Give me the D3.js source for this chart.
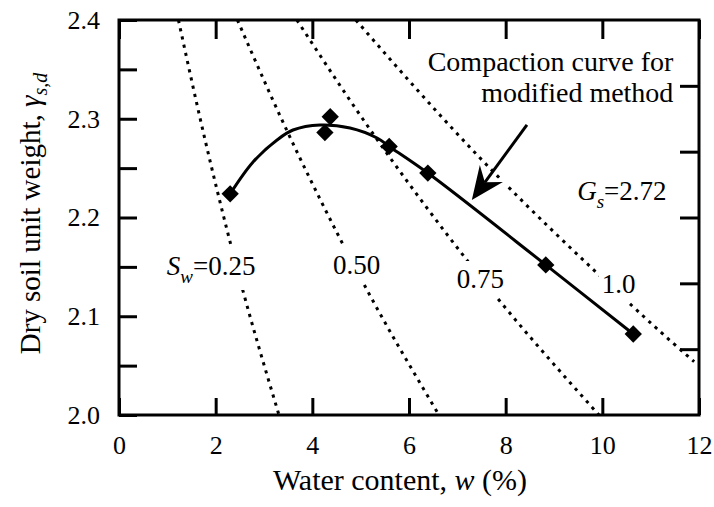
<!DOCTYPE html>
<html>
<head>
<meta charset="utf-8">
<script src="https://cdn.jsdelivr.net/npm/d3@7"></script>
<style>
  html, body { margin: 0; padding: 0; background: #fff; }
  svg text { font-family: 'Liberation Serif', 'Times New Roman', 'DejaVu Serif', serif; }
</style>
</head>
<body>
<svg id="chart" width="714" height="507"></svg>
<script>
// Compaction test results (modified method)
const waterContent  = [2.30, 4.26, 4.37, 5.59, 6.39, 8.83, 10.64];
const dryUnitWeight = [2.224, 2.286, 2.302, 2.272, 2.245, 2.152, 2.082];

// Smoothed compaction curve through the results
const curveW = [2.30, 2.77, 3.27, 3.60, 4.16, 4.78, 5.34, 5.59, 6.39, 8.83, 10.64];
const curveG = [2.224, 2.256, 2.2785, 2.2886, 2.2937, 2.2906, 2.2805, 2.272, 2.245, 2.152, 2.082];

// Constant degree-of-saturation lines (Gs = 2.72)
const satLabels = ["0.25", "0.50", "0.75", "1.0"];
const satW = [
  [1.23, 1.68, 2.17, 2.71, 3.31],
  [2.45, 3.36, 4.35, 5.43, 6.62],
  [3.68, 5.04, 6.52, 8.14, 9.93],
  [4.90, 6.71, 8.69, 10.85, 11.90]
];
const satG = [
  [2.40, 2.30, 2.20, 2.10, 2.00],
  [2.40, 2.30, 2.20, 2.10, 2.00],
  [2.40, 2.30, 2.20, 2.10, 2.00],
  [2.40, 2.30, 2.20, 2.10, 2.054]
];
// Label anchors for the saturation lines (left edge, baseline)
const satLabelW = [0.99, 4.43, 6.99, 9.99];
const satLabelG = [2.1418, 2.143, 2.1286, 2.1235];

// Axis ticks
const xTicks = [0, 2, 4, 6, 8, 10, 12];
const yTicks = [2.0, 2.05, 2.1, 2.15, 2.2, 2.25, 2.3, 2.35, 2.4];
const yTickLabels = [2.0, 2.1, 2.2, 2.3, 2.4];
const rightTicks = [1, 2, 3, 4, 5];

const FONT = "'Liberation Serif', 'Times New Roman', 'DejaVu Serif', serif";

const svg = d3.select("#chart");
const pLeft = 119, pTop = 20, pRight = 699, pBottom = 415;

const x = d3.scaleLinear().domain([0, 12]).range([pLeft, pRight]);
const y = d3.scaleLinear().domain([2.0, 2.4]).range([pBottom, pTop]);
const yRight = d3.scaleLinear().domain([0, 6]).range([pBottom, pTop]);

const plot = svg.append("g");

// Saturation lines (dotted)
const satLine = d3.line().x(d => x(d[0])).y(d => y(d[1])).curve(d3.curveNatural);
satLabels.forEach((lab, i) => {
  const pts = satW[i].map((w, j) => [w, satG[i][j]]);
  plot.append("path")
    .attr("d", satLine(pts))
    .attr("fill", "none")
    .attr("stroke", "#000")
    .attr("stroke-width", 3)
    .attr("stroke-dasharray", "3.2 5.2");
});

// Labels for saturation lines, with white knock-out behind
const knock = plot.append("g");
const labels = plot.append("g").attr("font-size", 27).attr("fill", "#000").style("font-family", FONT);

function addLabel(build, pad) {
  const t = build(labels);
  const b = t.node().getBBox();
  knock.append("rect")
    .attr("x", b.x - pad[0]).attr("y", b.y - pad[1])
    .attr("width", b.width + 2 * pad[0]).attr("height", b.height + 2 * pad[1])
    .attr("fill", "#fff");
  return t;
}

satLabels.forEach((lab, i) => {
  addLabel(g => {
    const t = g.append("text").attr("x", x(satLabelW[i])).attr("y", y(satLabelG[i]));
    if (i === 0) {
      t.append("tspan").attr("font-style", "italic").text("S");
      t.append("tspan").attr("font-style", "italic").attr("font-size", 19).attr("dy", 8).text("w");
      t.append("tspan").attr("dy", -8).text("=" + lab);
    } else {
      t.text(lab);
    }
    return t;
  }, [3, 3]);
});

// Gs label
const gsText = labels.append("text").attr("x", x(9.48)).attr("y", y(2.2177));
gsText.append("tspan").attr("font-style", "italic").text("G");
gsText.append("tspan").attr("font-style", "italic").attr("font-size", 19).attr("dy", 8).text("s");
gsText.append("tspan").attr("dy", -8).text("=2.72");

// Annotation text
const ann = plot.append("g").attr("font-size", 28).attr("text-anchor", "end").style("font-family", FONT);
ann.append("text").attr("x", x(11.47)).attr("y", y(2.3484)).text("Compaction curve for");
ann.append("text").attr("x", x(11.47)).attr("y", y(2.317)).text("modified method");

// Arrow pointing at the curve
const arrowFrom = [8.44, 2.2937];
const arrowTo = [7.30, 2.2177];
const ax0 = x(arrowFrom[0]), ay0 = y(arrowFrom[1]);
const ax1 = x(arrowTo[0]), ay1 = y(arrowTo[1]);
const len = Math.hypot(ax0 - ax1, ay0 - ay1);
const ux = (ax0 - ax1) / len, uy = (ay0 - ay1) / len;
const nx = -uy, ny = ux;
const headLen = 33, headHalf = 14.3, notch = 22;
const head = [
  [ax1, ay1],
  [ax1 + headLen * ux + headHalf * nx, ay1 + headLen * uy + headHalf * ny],
  [ax1 + notch * ux, ay1 + notch * uy],
  [ax1 + headLen * ux - headHalf * nx, ay1 + headLen * uy - headHalf * ny]
];
const headPath = "M" + head.map(p => p.join(",")).join("L") + "Z";
// white halo so the dotted line breaks under the arrowhead
knock.append("path").attr("d", headPath).attr("fill", "#fff")
  .attr("stroke", "#fff").attr("stroke-width", 7).attr("stroke-linejoin", "round");

// Compaction curve
const curveLine = d3.line().x(d => x(d[0])).y(d => y(d[1])).curve(d3.curveCatmullRom.alpha(0.5));
plot.append("path")
  .attr("d", curveLine(curveW.map((w, i) => [w, curveG[i]])))
  .attr("fill", "none")
  .attr("stroke", "#000")
  .attr("stroke-width", 3);

// Test points (diamonds)
const diamond = d3.symbol().type(d3.symbolSquare).size(150);
plot.append("g").selectAll("path")
  .data(waterContent.map((w, i) => [w, dryUnitWeight[i]]))
  .join("path")
  .attr("d", diamond)
  .attr("transform", d => `translate(${x(d[0])},${y(d[1])}) rotate(45)`)
  .attr("fill", "#000");

// Arrow on top
plot.append("line")
  .attr("x1", ax0).attr("y1", ay0)
  .attr("x2", ax1 + notch * ux).attr("y2", ay1 + notch * uy)
  .attr("stroke", "#000").attr("stroke-width", 3);
plot.append("path").attr("d", headPath).attr("fill", "#000");

// Axes: ticks point inward
const fmtY = d => yTickLabels.some(v => Math.abs(v - d) < 1e-9) ? d3.format(".1f")(d) : "";

function styleAxis(g) {
  g.attr("font-family", null);
  g.select(".domain").remove();
  g.selectAll(".tick line").attr("stroke", "#000").attr("stroke-width", 3);
  g.selectAll(".tick text").attr("fill", "#000")
    .style("font-family", FONT)
    .attr("font-size", 26);
}

svg.append("g").attr("transform", `translate(0,${pBottom})`)
  .call(d3.axisBottom(x).tickValues(xTicks).tickSize(-17).tickPadding(21).tickFormat(d3.format("d")))
  .call(styleAxis);

svg.append("g").attr("transform", `translate(0,${pTop})`)
  .call(d3.axisTop(x).tickValues(xTicks).tickSize(-19).tickFormat(""))
  .call(styleAxis);

svg.append("g").attr("transform", `translate(${pLeft},0)`)
  .call(d3.axisLeft(y).tickValues(yTicks).tickSize(-18).tickPadding(19).tickFormat(fmtY))
  .call(styleAxis);

svg.append("g").attr("transform", `translate(${pRight},0)`)
  .call(d3.axisRight(yRight).tickValues(rightTicks).tickSize(-19).tickFormat(""))
  .call(styleAxis);

// Frame
svg.append("rect")
  .attr("x", pLeft).attr("y", pTop)
  .attr("width", pRight - pLeft).attr("height", pBottom - pTop)
  .attr("fill", "none").attr("stroke", "#000").attr("stroke-width", 3);

// Axis titles
const xTitle = svg.append("text")
  .attr("x", 400).attr("y", 490)
  .attr("text-anchor", "middle").attr("font-size", 30).style("font-family", FONT);
xTitle.append("tspan").text("Water content, ");
xTitle.append("tspan").attr("font-style", "italic").text("w");
xTitle.append("tspan").text(" (%)");

const yTitle = svg.append("text")
  .attr("transform", `translate(40,${(pTop + pBottom) / 2 - 4}) rotate(-90)`)
  .attr("text-anchor", "middle").attr("font-size", 29).style("font-family", FONT);
yTitle.append("tspan").text("Dry soil unit weight, ");
yTitle.append("tspan").attr("font-style", "italic").text("\u03b3");
yTitle.append("tspan").attr("font-style", "italic").attr("font-size", 20).attr("dy", 7).text("s,d");
</script>
</body>
</html>
